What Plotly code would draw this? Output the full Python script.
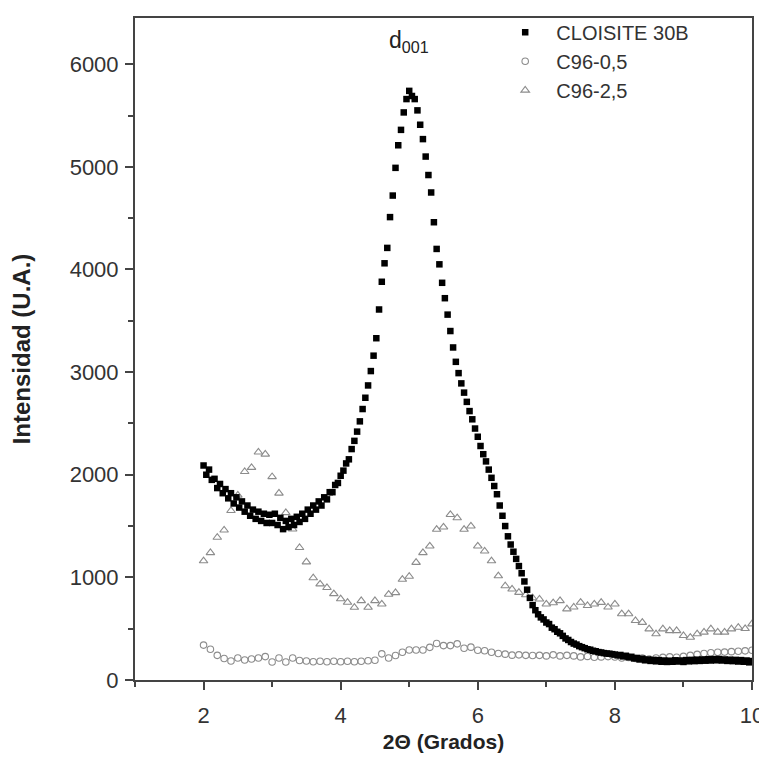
import numpy as np
import plotly.graph_objects as go

# ---------------- data ----------------
cloisite_x = np.round(np.linspace(2.0, 10.0, 201), 2)
cloisite_y = [
    2090, 2000, 2050, 1950, 1960, 1870, 1910, 1820, 1860, 1770,   # 2.00-2.36
    1820, 1720, 1780, 1680, 1740, 1640, 1700, 1600, 1660, 1570,   # 2.40-2.76
    1640, 1550, 1620, 1530, 1610, 1530, 1620, 1510, 1580, 1470,   # 2.80-3.16
    1550, 1490, 1570, 1510, 1590, 1540, 1620, 1570, 1660, 1620,   # 3.20-3.56
    1700, 1660, 1740, 1700, 1780, 1760, 1830, 1830, 1900, 1920,   # 3.60-3.96
    1990, 2040, 2110, 2150, 2250, 2330, 2420, 2520, 2640, 2750,   # 4.00-4.36
    2870, 3010, 3160, 3330, 3610, 3880, 4060, 4210, 4510, 4720,   # 4.40-4.76
    4990, 5210, 5360, 5530, 5660, 5740, 5690, 5660, 5550, 5410,   # 4.80-5.16
    5270, 5100, 4920, 4750, 4460, 4200, 4050, 3870, 3720, 3560,   # 5.20-5.56
    3400, 3240, 3100, 2990, 2890, 2800, 2710, 2620, 2540, 2450,   # 5.60-5.96
    2370, 2280, 2200, 2130, 2050, 1970, 1890, 1810, 1700, 1600,   # 6.00-6.36
    1500, 1400, 1320, 1250, 1180, 1110, 1040, 960, 880, 800,      # 6.40-6.76
    730, 680, 640, 610, 590, 560, 545, 510, 495, 470,             # 6.80-7.16
    455, 430, 405, 390, 370, 355, 345, 330, 320, 310,             # 7.20-7.56
    300, 295, 285, 280, 272, 268, 262, 258, 256, 252,             # 7.60-7.96
    248, 240, 244, 230, 236, 222, 226, 210, 215, 200,             # 8.00-8.36
    208, 192, 200, 186, 196, 182, 194, 178, 190, 176,             # 8.40-8.76
    188, 178, 192, 180, 190, 176, 194, 182, 196, 184,             # 8.80-9.16
    198, 186, 200, 188, 202, 190, 204, 192, 205, 190,             # 9.20-9.56
    200, 186, 198, 184, 196, 180, 194, 178, 190, 172,             # 9.60-9.96
    185,                                                          # 10.00
]

c05_x = np.round(np.linspace(2.0, 10.0, 81), 1)
c05_y = [
    340, 300, 240, 210, 185, 215, 195, 205, 215, 228,   # 2.0-2.9
    175, 215, 175, 215, 190, 185, 178, 182, 178, 182,   # 3.0-3.9
    178, 182, 178, 182, 188, 192, 255, 215, 238, 270,   # 4.0-4.9
    292, 292, 293, 318, 355, 335, 335, 352, 310, 320,   # 5.0-5.9
    290, 285, 270, 258, 252, 242, 245, 240, 238, 240,   # 6.0-6.9
    235, 245, 235, 240, 235, 225, 230, 222, 225, 228,   # 7.0-7.9
    224, 215, 220, 210, 215, 205, 215, 220, 225, 222,   # 8.0-8.9
    230, 240, 250, 258, 265, 270, 272, 276, 280, 284,   # 9.0-9.9
    290,                                                # 10.0
]

c25_x = np.round(np.linspace(2.0, 10.0, 81), 1)
c25_y = [
    1160, 1240, 1390, 1460, 1650, 1800, 2030, 2070, 2220, 2200,   # 2.0-2.9
    1980, 1820, 1630, 1470, 1290, 1150, 995, 935, 900, 840,       # 3.0-3.9
    790, 756, 707, 772, 707, 772, 740, 835, 850, 980,             # 4.0-4.9
    1010, 1145, 1240, 1305, 1467, 1490, 1612, 1580, 1467, 1500,   # 5.0-5.9
    1305, 1256, 1160, 1014, 917, 885, 853, 830, 800, 788,         # 6.0-6.9
    740, 752, 772, 692, 710, 757, 725, 740, 755, 710,             # 7.0-7.9
    740, 645, 645, 578, 560, 497, 449, 497, 480, 480,             # 8.0-8.9
    432, 416, 449, 465, 497, 465, 465, 497, 513, 500,             # 9.0-9.9
    546,                                                          # 10.0
]

x_ticks = [2, 4, 6, 8, 10]
y_ticks = [0, 1000, 2000, 3000, 4000, 5000, 6000]

# ---------------- figure ----------------
GRAY = "#8c8c8c"
AX = "#444444"
FONT = "Liberation Sans, Arial, sans-serif"
NB = "\u00a0\u00a0"

fig = go.Figure()
fig.add_trace(go.Scatter(
    x=c05_x, y=c05_y, mode="markers", name=NB + "C96-0,5", legendrank=2,
    marker=dict(symbol="circle-open", size=6.5, color=GRAY, line=dict(width=1.1, color=GRAY)),
))
fig.add_trace(go.Scatter(
    x=c25_x, y=c25_y, mode="markers", name=NB + "C96-2,5", legendrank=3,
    marker=dict(symbol="triangle-up-open", size=7.5, color=GRAY, line=dict(width=1.1, color=GRAY)),
))
fig.add_trace(go.Scatter(
    x=cloisite_x, y=cloisite_y, mode="markers", name=NB + "CLOISITE 30B", legendrank=1,
    marker=dict(symbol="square", size=6.5, color="#000000", line=dict(width=0)),
))

fig.add_annotation(
    x=5.0, y=6220, xref="x", yref="y", text="d<sub>001</sub>", showarrow=False,
    font=dict(family=FONT, size=23, color="#222222"),
)

axis_common = dict(
    showline=True, linecolor=AX, linewidth=2, mirror=True,
    ticks="outside", ticklen=8, tickwidth=1.5, tickcolor=AX,
    showgrid=False, zeroline=False, automargin=False,
    tickfont=dict(family=FONT, size=22, color="#333333"),
)

fig.update_xaxes(
    range=[1, 10], tickvals=x_ticks, ticklabelstandoff=7,
    minor=dict(dtick=1, tick0=1, ticks="outside", ticklen=5, tickwidth=1.5, tickcolor=AX),
    title=dict(text="<b>2Θ (Grados)</b>", font=dict(family=FONT, size=21, color="#222222"), standoff=10),
    **axis_common,
)
fig.update_yaxes(
    range=[0, 6450], tickvals=y_ticks, ticklabelstandoff=2,
    minor=dict(dtick=500, tick0=0, ticks="outside", ticklen=5, tickwidth=1.5, tickcolor=AX),
    title=dict(text="<b>Intensidad (U.A.)</b>", font=dict(family=FONT, size=24, color="#222222"), standoff=32),
    **axis_common,
)

# page body has an 8px margin; compensate so the plot area lands where the reference has it
fig.update_layout(
    width=759, height=745,
    margin=dict(l=127, r=15, t=5, b=73),
    paper_bgcolor="white", plot_bgcolor="white",
    showlegend=True,
    legend=dict(
        x=0.60, y=1.008, xanchor="left", yanchor="top",
        font=dict(family=FONT, size=20, color="#333333"),
        bgcolor="rgba(0,0,0,0)", tracegroupgap=0, itemwidth=30,
    ),
)

fig.write_html("out.html")
